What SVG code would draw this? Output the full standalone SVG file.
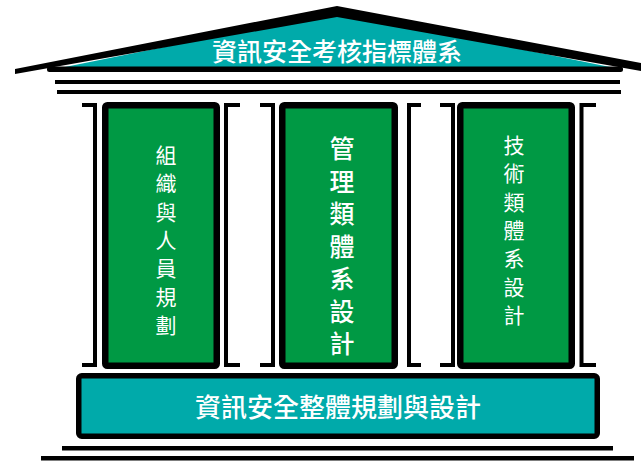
<svg xmlns="http://www.w3.org/2000/svg" width="641" height="467" viewBox="0 0 641 467">
<style>
.blk{fill:#000}
.br{fill:none;stroke:#000;stroke-width:4}
.pillar{fill:#009944;stroke:#000;stroke-width:6.5}
.base{fill:#00AAAA;stroke:#000;stroke-width:5.5}
.t{font-family:"Noto Sans CJK TC","Noto Sans CJK SC",sans-serif;fill:#fff;text-anchor:middle;font-weight:500}
.r{font-weight:400}
</style>
<rect width="641" height="467" fill="#fff"/>
<g id="roof">
<polygon points="60,68 337,12 615,68" fill="#00AAAA"/>
<polygon class="blk" points="15,69 337,6 641,63 641,71 337,17 15,74"/>
<rect class="blk" x="47" y="66.5" width="576" height="5.5" rx="2.5"/>
<rect class="blk" x="55" y="80" width="565" height="4"/>
<rect class="blk" x="57" y="90" width="564" height="4"/>
<text class="t" x="337" y="61" font-size="25">資訊安全考核指標體系</text>
</g>
<g id="brackets">
<path class="br" d="M82,105H95V365H82"/>
<path class="br" d="M240,105H226V365H240"/>
<path class="br" d="M260,105H273V365H260"/>
<path class="br" d="M421,105H409V365H421"/>
<path class="br" d="M440,105H453V365H440"/>
<path class="br" d="M596,105H581.5V365H596"/>
</g>
<g id="pillar1">
<rect class="pillar" x="105.25" y="105.25" width="111.5" height="260.5" rx="2"/>
<text class="t r" font-size="21"><tspan x="166" y="163">組</tspan><tspan x="166" dy="28.3">織</tspan><tspan x="166" dy="28.3">與</tspan><tspan x="166" dy="28.3">人</tspan><tspan x="166" dy="28.3">員</tspan><tspan x="166" dy="28.3">規</tspan><tspan x="166" dy="28.3">劃</tspan></text>
</g>
<g id="pillar2">
<rect class="pillar" x="282.25" y="105.25" width="112.5" height="260.5" rx="2"/>
<text class="t" font-size="25"><tspan x="342" y="158">管</tspan><tspan x="342" dy="32.5">理</tspan><tspan x="342" dy="32.5">類</tspan><tspan x="342" dy="32.5">體</tspan><tspan x="342" dy="32.5">系</tspan><tspan x="342" dy="32.5">設</tspan><tspan x="342" dy="32.5">計</tspan></text>
</g>
<g id="pillar3">
<rect class="pillar" x="460.25" y="105.25" width="111.5" height="260.5" rx="2"/>
<text class="t r" font-size="21"><tspan x="514" y="153">技</tspan><tspan x="514" dy="28.3">術</tspan><tspan x="514" dy="28.3">類</tspan><tspan x="514" dy="28.3">體</tspan><tspan x="514" dy="28.3">系</tspan><tspan x="514" dy="28.3">設</tspan><tspan x="514" dy="28.3">計</tspan></text>
</g>
<g id="base">
<rect class="base" x="78.75" y="375.75" width="518.5" height="60.5" rx="3"/>
<text class="t" x="338" y="417" font-size="26">資訊安全整體規劃與設計</text>
<rect class="blk" x="62" y="446" width="551" height="4.5"/>
<rect class="blk" x="41" y="456" width="593" height="4.5"/>
</g>
</svg>
